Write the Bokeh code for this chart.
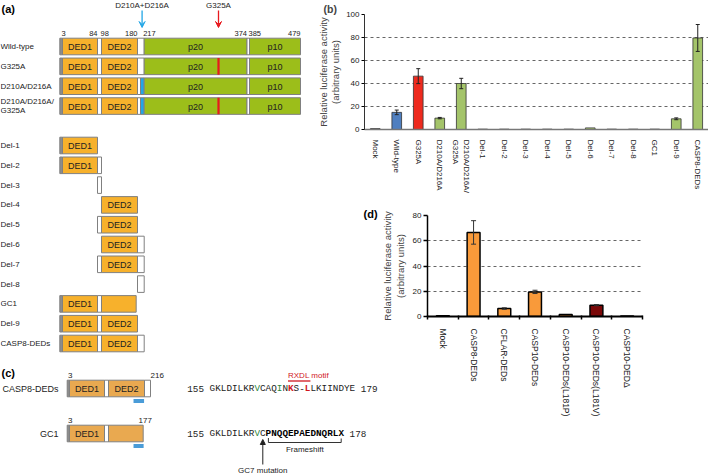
import numpy as np
from bokeh.plotting import figure
from bokeh.layouts import row, column
from bokeh.models import (Range1d, ColumnDataSource, Whisker, TeeHead, Arrow,
                          VeeHead, NormalHead, FactorRange, FixedTicker)
from bokeh.core.properties import value
from bokeh.embed import file_html
from bokeh.resources import INLINE

# ---------------- data ----------------
# (a) CASP8 domain map (residue numbers)
dom_start = [1, 3, 84, 98, 180, 217, 374, 385]
dom_end = [3, 84, 98, 180, 217, 374, 385, 479]
dom_kind = ["cap", "DED1", "link", "DED2", "link", "p20", "link", "p10"]
boundary_res = [3, 84, 98, 180, 217, 374, 385, 479]
boundary_side = ["left", "right", "left", "right", "left", "right", "left", "right"]

constructs_a = ["Wild-type", "G325A", "D210A/D216A", "D210A/D216A/\nG325A"]
mut_g325a = [False, True, False, True]
mut_d210a = [False, False, True, True]

del_names = ["Del-1", "Del-2", "Del-3", "Del-4", "Del-5", "Del-6", "Del-7",
             "Del-8", "GC1", "Del-9", "CASP8-DEDs"]
del_start = [1, 1, 84, 98, 84, 98, 84, 180, 1, 1, 1]
del_end = [84, 98, 98, 180, 180, 217, 217, 217, 177, 180, 217]

# (b) luciferase activity
cats_b = ["Mock", "Wild-type", "G325A", "D210A/D216A", "D210A/D216A/\nG325A",
          "Del-1", "Del-2", "Del-3", "Del-4", "Del-5", "Del-6", "Del-7", "Del-8",
          "GC1", "Del-9", "CASP8-DEDs"]
vals_b = [0.8, 14.9, 46.4, 9.9, 40.0, 0.3, 0.3, 0.3, 0.3, 0.3, 1.4, 0.3, 0.3,
          0.3, 9.3, 79.6]
err_b = [0, 2.0, 6.5, 0.6, 4.5, 0, 0, 0, 0, 0, 0, 0, 0, 0, 0.8, 11.7]
col_b = ["#9a9a9a", "#4F7FC0", "#EE2A1E", "#A4C46A", "#A4C46A"] + ["#A4C46A"] * 11

# (c) constructs and sequences
names_c = ["CASP8-DEDs", "GC1"]
end_c = [216, 177]
seq_first = 155
seq_c8 = "GKLDILKRVCAQINKS-LLKIINDYE"
seq_gc1 = "GKLDILKRVCPNQQEPAEDNQRLX"
seq_last = [179, 178]
c8_green = [8, 12]
c8_red = [14, 17]
gc1_green = [8]
gc1_mut = 9
gc1_frameshift = 10

# (d) luciferase activity
cats_d = ["Mock", "CASP8-DEDs", "CFLAR-DEDs", "CASP10-DEDs", "CASP10-DEDs(L181P)",
          "CASP10-DEDs(L181V)", "CASP10-DED\u0394"]
vals_d = [0.5, 66.6, 6.3, 19.5, 1.6, 9.0, 0.4]
err_d = [0, 9.3, 0.6, 1.3, 0, 0.5, 0]
col_d = ["#F99A3A", "#F99A3A", "#F99A3A", "#F99A3A", "#F99A3A", "#7A0707", "#F99A3A"]

# ---------------- layout constants ----------------
PW, PH = 708, 473
WA = 315; WB = PW - WA
WC = 378; WD = PW - WC
HT = 195; HB = PH - HT

SANS = "Liberation Sans"
MONO = "Liberation Mono"
ORANGE_A = "#F7B12C"
ORANGE_C = "#E9A950"
GREEN_A = "#9CBE1A"
GRAY = "#808080"

RES_A = [1, 3, 84, 98, 180, 210, 217, 325, 374, 385, 479]
XA = [59.3, 62, 97, 101, 137, 140, 143.7, 218, 246.5, 249, 300]
RES_C = [1, 3, 84, 98, 180, 216]
XC = [66.7, 69, 104, 108, 144, 150]


def xmap(r, res, xs):
    return float(np.interp(r, res, xs))


def canvas(x0, x1, y0, y1, w, h):
    p = figure(width=w, height=h, x_range=Range1d(x0, x1), y_range=Range1d(y1, y0),
               output_backend="svg", toolbar_location=None, min_border=0,
               x_axis_type=None, y_axis_type=None, frame_align=False)
    p.outline_line_color = None
    p.grid.visible = False
    return p


def txt(p, x, y, s, size, align="left", color="#222222", style="normal",
        font=SANS, baseline="middle"):
    p.text(x=[x], y=[y], text=[s], text_font=value(font), text_font_size=f"{size}px",
           text_align=align, text_baseline=baseline, text_color=color,
           text_font_style=style)


def segments(start, end, d210=False):
    out = []
    for s, e, k in zip(dom_start, dom_end, dom_kind):
        parts = [(180, 210, "link"), (210, 217, "blue")] if (d210 and s == 180) else [(s, e, k)]
        for a, b, kk in parts:
            a2, b2 = max(a, start), min(b, end)
            if b2 > a2:
                if kk == "DED2" and b2 < b:
                    kk = "trunc"
                out.append((a2, b2, kk))
    return out


def draw_construct(p, segs, y, res, xs, orange, hh=8.3, fs=9):
    fills = {"cap": "#8c8c8c", "DED1": orange, "DED2": orange, "trunc": orange,
             "link": "white", "p20": GREEN_A, "p10": GREEN_A, "blue": "#22A6E6"}
    L, R, T, B, F = [], [], [], [], []
    for a, b, k in segs:
        L.append(xmap(a, res, xs)); R.append(xmap(b, res, xs))
        T.append(y - hh); B.append(y + hh); F.append(fills[k])
    p.quad(left=L, right=R, top=T, bottom=B, fill_color=F, line_color=GRAY,
           line_width=1)
    for a, b, k in segs:
        if k in ("DED1", "DED2", "p20", "p10"):
            txt(p, (xmap(a, res, xs) + xmap(b, res, xs)) / 2, y + 0.5, k, fs,
                align="center")


# ---------------- (a) ----------------
pA = canvas(0, WA, 0, HT, WA, HT)
pC = canvas(0, WC, HT, PH, WC, HB)

txt(pA, 1, 8, "(a)", 11, style="bold", color="black")
row_y_a = [46 + 19.85 * i for i in range(len(constructs_a))]
for name, g, d, y in zip(constructs_a, mut_g325a, mut_d210a, row_y_a):
    draw_construct(pA, segments(1, 479, d), y, RES_A, XA, ORANGE_A)
    if g:
        xm = xmap(325, RES_A, XA)
        pA.quad(left=[xm - 1.1], right=[xm + 1.1], top=[y - 8.3], bottom=[y + 8.3],
                fill_color="#E8191E", line_color=None)
    lines = name.split("\n")
    for j, ln in enumerate(lines):
        txt(pA, 0, y + (j - (len(lines) - 1) / 2) * 9.5, ln, 8)

for r, side in zip(boundary_res, boundary_side):
    xb = xmap(r, RES_A, XA)
    txt(pA, xb - 1 if side == "left" else xb, 33, str(r), 7.5, align=side)

xd = xmap(213, RES_A, XA)
xg = xmap(325, RES_A, XA)
txt(pA, xd, 4.5, "D210A+D216A", 8, align="center")
txt(pA, xg, 4.5, "G325A", 8, align="center")
pA.add_layout(Arrow(x_start=xd, y_start=10, x_end=xd, y_end=27, line_color="#22A6E6",
                    line_width=1.3, end=VeeHead(size=6, fill_color="#22A6E6",
                                                line_color="#22A6E6")))
pA.add_layout(Arrow(x_start=xg, y_start=10, x_end=xg, y_end=27, line_color="#E8191E",
                    line_width=1.3, end=VeeHead(size=6, fill_color="#E8191E",
                                                line_color="#E8191E")))

for i, (name, s, e) in enumerate(zip(del_names, del_start, del_end)):
    y = 145 + 19.8 * i
    p = pA if y < HT else pC
    draw_construct(p, segments(s, e), y, RES_A, XA, ORANGE_A)
    txt(p, 0, y, name, 8)

# ---------------- (c) ----------------
txt(pC, 1, 372, "(c)", 11, style="bold", color="black")
txt(pC, 363, 213, "(d)", 11, style="bold", color="black")
row_y_c = [388, 433]
for k, (name, e, y) in enumerate(zip(names_c, end_c, row_y_c)):
    draw_construct(pC, segments(1, e), y, RES_C, XC, ORANGE_C)
    txt(pC, 58, y, name, 9, align="right")
    txt(pC, xmap(3, RES_C, XC) - 1.5, y - 13, "3", 8)
    if e == 216:
        txt(pC, xmap(e, RES_C, XC), y - 13, str(e), 8)
    else:
        txt(pC, xmap(e, RES_C, XC) + 2, y - 13, str(e), 8, align="center")
    pC.quad(left=[xmap(seq_first, RES_C, XC)], right=[xmap(seq_last[k], RES_C, XC)],
            top=[y + 10.5], bottom=[y + 14.5], fill_color="#4A9CD8", line_color=None)

CW = 5.6
SX0 = 186.7


def draw_seq(p, y, seq, last, green, red, bold_from=None):
    full = f"{seq_first} " + seq + f" {last}"
    xs_n, ch_n, col_n, xs_b, ch_b, col_b2 = [], [], [], [], [], []
    for i, ch in enumerate(full):
        if ch == " ":
            continue
        si = i - 4
        color = "#222222"
        bold = False
        if 0 <= si < len(seq):
            if si in green:
                color = "#2F8A3C"
            if si in red:
                color = "#D0161E"; bold = True
            if bold_from is not None and si >= bold_from:
                bold = True
                color = "black"
        x = SX0 + (i + 0.5) * CW
        if bold:
            xs_b.append(x); ch_b.append(ch); col_b2.append(color)
        else:
            xs_n.append(x); ch_n.append(ch); col_n.append(color)
    p.text(x=xs_n, y=[y] * len(xs_n), text=ch_n, text_color=col_n,
           text_font=value(MONO), text_font_size="9.3px", text_align="center",
           text_baseline="middle")
    if xs_b:
        p.text(x=xs_b, y=[y] * len(xs_b), text=ch_b, text_color=col_b2,
               text_font=value(MONO), text_font_size="9.3px", text_align="center",
               text_baseline="middle", text_font_style="bold")


def cx(si):
    return SX0 + (si + 4 + 0.5) * CW


draw_seq(pC, 388, seq_c8, seq_last[0], c8_green, c8_red)
draw_seq(pC, 433, seq_gc1, seq_last[1], gc1_green, [], bold_from=gc1_frameshift)

pC.line(x=[cx(c8_red[0]) - CW / 2, cx(c8_red[1]) + CW / 2], y=[380.5, 380.5],
        line_color="#D0161E", line_width=1.3)
txt(pC, cx(c8_red[0]) - CW / 2, 374.5, "RXDL motif", 8, color="#D0161E")

xf0, xf1 = cx(gc1_frameshift), cx(len(seq_gc1) - 1)
pC.line(x=[xf0, xf0, xf1, xf1], y=[437.5, 442, 442, 438], line_color="#333333",
        line_width=1)
txt(pC, (xf0 + xf1) / 2, 449, "Frameshift", 8, align="center")

xm = cx(gc1_mut)
pC.add_layout(Arrow(x_start=xm, y_start=464, x_end=xm, y_end=439, line_color="#222222",
                    line_width=1, end=NormalHead(size=5, fill_color="#222222",
                                                 line_color="#222222")))
txt(pC, xm, 469.5, "GC7 mutation", 8, align="center")

# ---------------- (b) bar chart ----------------
pB = figure(width=WB, height=HT, x_range=FactorRange(factors=cats_b),
            y_range=Range1d(0, 100), output_backend="svg", toolbar_location=None,
            min_border_left=42, min_border_right=0, min_border_top=13,
            min_border_bottom=64, frame_align=False, title="(b)")
pB.title.align = "left"
pB.title.offset = -41
pB.title.standoff = 0
pB.title.text_font = SANS
pB.title.text_font_size = "10.5px"
pB.title.text_font_style = "bold"
pB.outline_line_color = None
srcB = ColumnDataSource(dict(cat=cats_b, val=vals_b, col=col_b))
pB.vbar(x="cat", top="val", width=0.45, fill_color="col", line_color="#333333",
        line_width=0.8, source=srcB)
ebB = ColumnDataSource(dict(cat=[c for c, e in zip(cats_b, err_b) if e > 0],
                            up=[v + e for v, e in zip(vals_b, err_b) if e > 0],
                            lo=[v - e for v, e in zip(vals_b, err_b) if e > 0]))
pB.add_layout(Whisker(source=ebB, base="cat", upper="up", lower="lo", level="overlay",
                      line_color="#222222", line_width=1,
                      upper_head=TeeHead(size=4, line_color="#222222", line_width=1),
                      lower_head=TeeHead(size=4, line_color="#222222", line_width=1)))
pB.xgrid.visible = False
pB.ygrid.ticker = FixedTicker(ticks=[20, 40, 60, 80, 100])
pB.ygrid.grid_line_dash = "3 3"
pB.ygrid.grid_line_color = "#666666"
pB.yaxis.ticker = FixedTicker(ticks=[0, 20, 40, 60, 80, 100])
pB.yaxis.minor_tick_line_color = None
pB.yaxis.major_tick_out = 3
pB.yaxis.major_tick_in = 0
pB.yaxis.major_label_standoff = 2
pB.yaxis.axis_label = "Relative luciferase activity\n(arbitrary units)"
pB.yaxis.axis_label_standoff = 2
pB.yaxis.axis_label_text_font_size = "9.5px"
pB.yaxis.axis_label_text_font_style = "normal"
pB.yaxis.axis_label_text_line_height = 1.1
pB.yaxis.axis_line_color = "#333333"
pB.xaxis.axis_line_color = "#777777"
pB.xaxis.axis_line_width = 1.5
pB.xaxis.major_tick_line_color = None
pB.xaxis.major_label_orientation = "vertical"
pB.xaxis.major_label_standoff = 4
pB.xaxis.major_label_text_font_size = "8px"
pB.yaxis.major_label_text_font_size = "8px"
for ax in (pB.xaxis, pB.yaxis):
    ax.major_label_text_font = SANS
    ax.axis_label_text_font = SANS
    ax.major_label_text_color = "#222222"

# ---------------- (d) bar chart ----------------
xd_pos = list(range(1, len(cats_d) + 1))
pD = figure(width=WD, height=HB, x_range=Range1d(0.5, len(cats_d) + 0.5),
            y_range=Range1d(0, 80), output_backend="svg", toolbar_location=None,
            min_border_left=49, min_border_right=66, min_border_top=20,
            min_border_bottom=157, frame_align=False)
pD.outline_line_color = None
pD.vbar(x=xd_pos, top=vals_d, width=0.42, fill_color=col_d, line_color="black",
        line_width=1.5)
ebD = ColumnDataSource(dict(x=[x for x, e in zip(xd_pos, err_d) if e > 0],
                            up=[v + e for v, e in zip(vals_d, err_d) if e > 0],
                            lo=[v - e for v, e in zip(vals_d, err_d) if e > 0]))
pD.add_layout(Whisker(source=ebD, base="x", upper="up", lower="lo", level="overlay",
                      line_color="#333333", line_width=1,
                      upper_head=TeeHead(size=5, line_color="#333333", line_width=1),
                      lower_head=TeeHead(size=5, line_color="#333333", line_width=1)))
pD.xgrid.visible = False
pD.ygrid.ticker = FixedTicker(ticks=[20, 40, 60, 80])
pD.ygrid.grid_line_dash = "3 3"
pD.ygrid.grid_line_color = "#666666"
pD.yaxis.ticker = FixedTicker(ticks=[0, 20, 40, 60, 80])
pD.yaxis.minor_tick_line_color = None
pD.yaxis.major_tick_out = 4
pD.yaxis.major_tick_in = 0
pD.yaxis.major_label_standoff = 2
pD.yaxis.axis_line_width = 1.5
pD.yaxis.major_tick_line_width = 1.5
pD.yaxis.axis_label = "Relative luciferase activity\n(arbitrary units)"
pD.yaxis.axis_label_standoff = 4
pD.yaxis.axis_label_text_font_size = "9.5px"
pD.yaxis.axis_label_text_font_style = "normal"
pD.yaxis.axis_label_text_line_height = 1.1
pD.xaxis.ticker = FixedTicker(ticks=xd_pos,
                              minor_ticks=[x - 0.5 for x in xd_pos] + [len(cats_d) + 0.5])
pD.xaxis.major_label_overrides = {x: c for x, c in zip(xd_pos, cats_d)}
pD.xaxis.major_tick_line_color = None
pD.xaxis.minor_tick_out = 3
pD.xaxis.minor_tick_in = 1
pD.xaxis.minor_tick_line_width = 1.5
pD.xaxis.axis_line_width = 2
pD.xaxis.major_label_orientation = "vertical"
pD.xaxis.major_label_standoff = 6
pD.xaxis.major_label_text_font_size = "8.5px"
pD.yaxis.major_label_text_font_size = "8px"
for ax in (pD.xaxis, pD.yaxis):
    ax.major_label_text_font = SANS
    ax.axis_label_text_font = SANS
    ax.major_label_text_color = "#222222"

layout = column(row(pA, pB), row(pC, pD))
open("out.html", "w").write(file_html(layout, INLINE))
